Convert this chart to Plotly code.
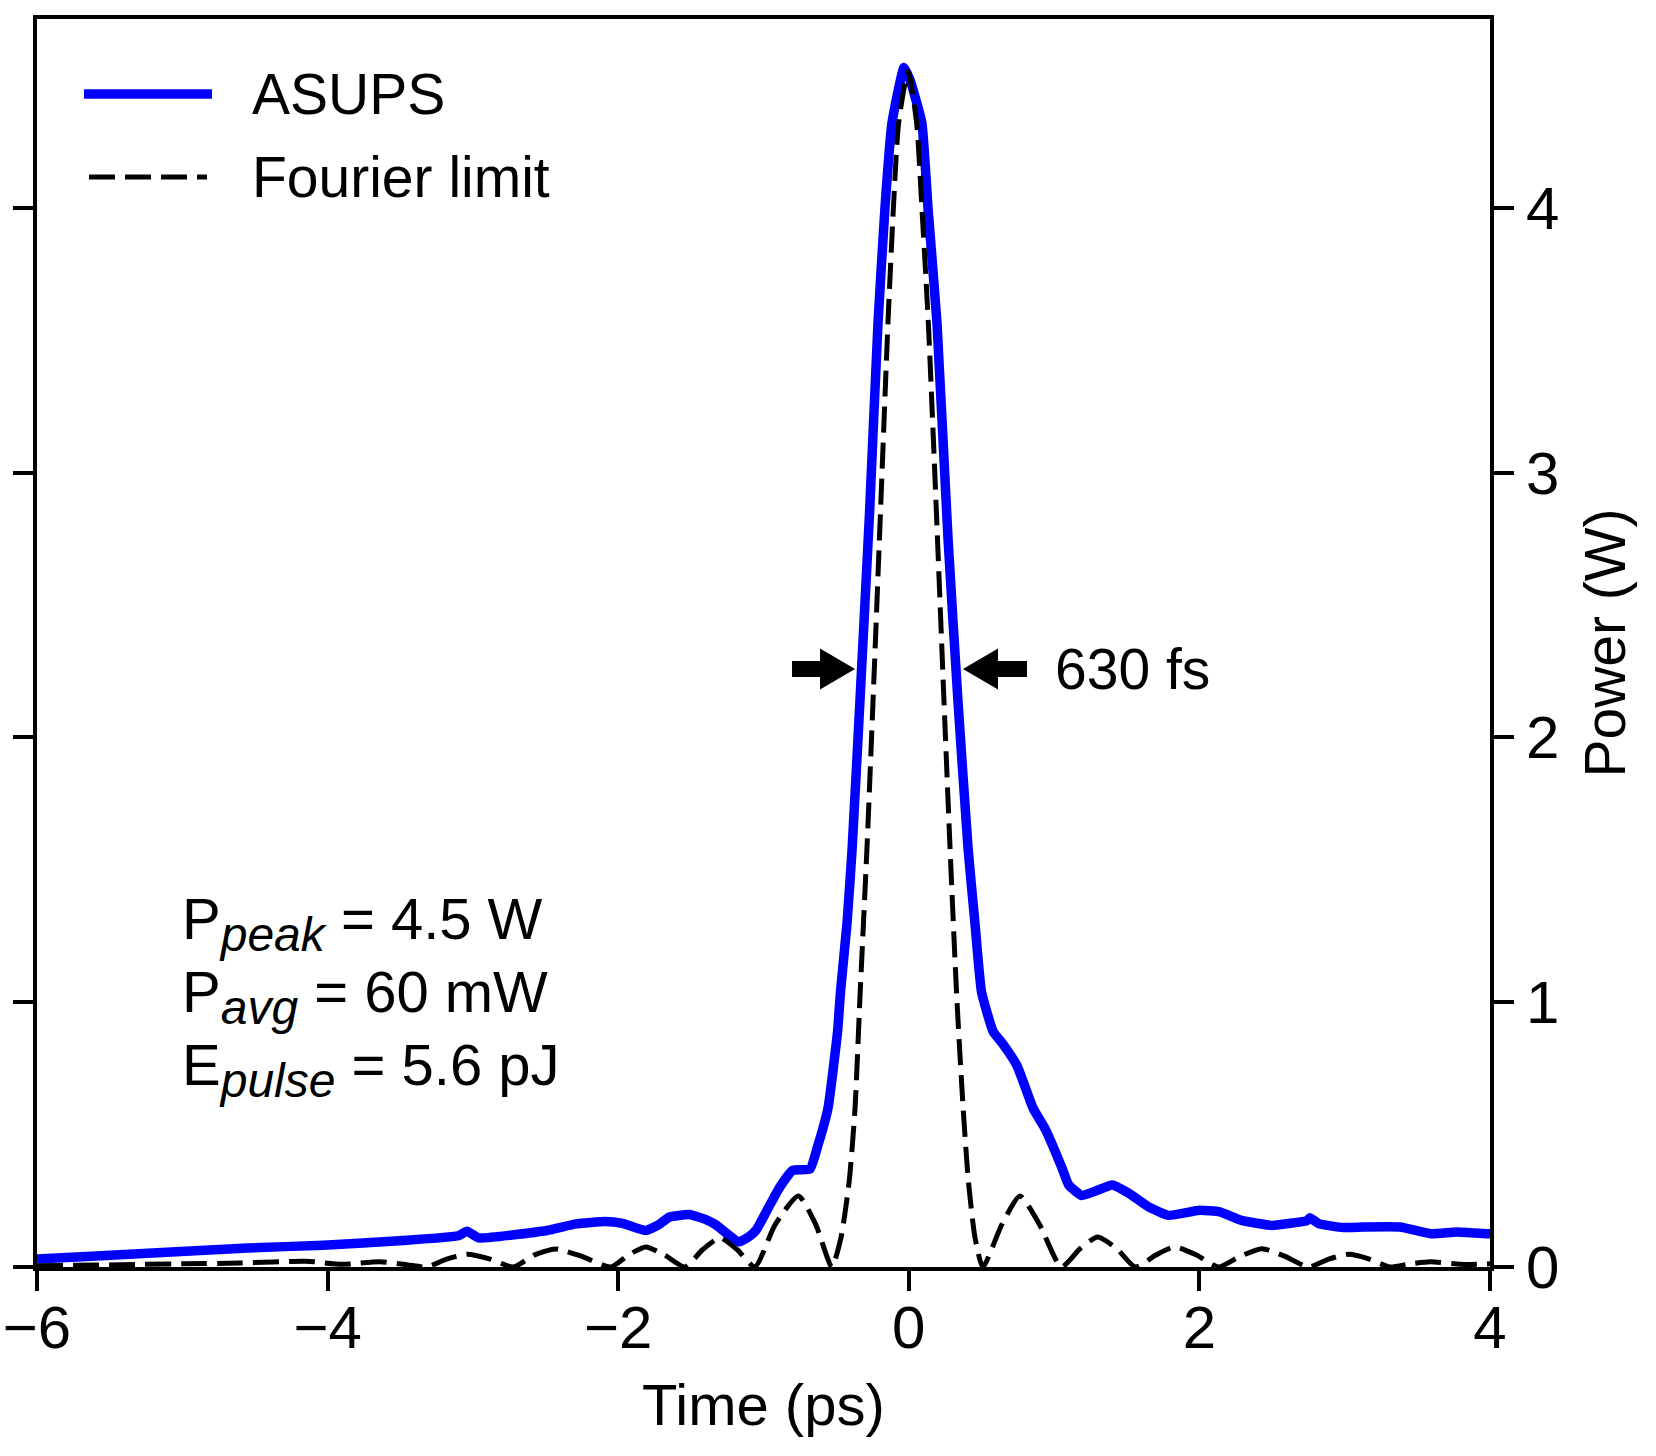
import plotly.graph_objects as go

# ---------------- data ----------------
t_asups = [-6.00, -5.66, -5.14, -4.55, -4.03, -3.48, -3.10, -3.04, -2.96, -2.49,
           -2.29, -2.09, -1.97, -1.81, -1.72, -1.65, -1.51, -1.40, -1.33, -1.17,
           -1.10, -1.05, -0.97, -0.89, -0.80, -0.68, -0.625, -0.556, -0.49, -0.47,
           -0.425, -0.39, -0.336, -0.27, -0.212, -0.164, -0.116, -0.033, 0.01, 0.09,
           0.132, 0.194, 0.27, 0.338, 0.408, 0.455, 0.50, 0.58, 0.65, 0.745,
           0.855, 0.94, 1.05, 1.10, 1.19, 1.30, 1.40, 1.51, 1.65, 1.79,
           2.00, 2.14, 2.29, 2.50, 2.64, 2.74, 2.76, 2.82, 2.99, 3.13,
           3.38, 3.59, 3.77, 3.98, 4.00]
p_asups = [0.030, 0.040, 0.055, 0.072, 0.082, 0.100, 0.118, 0.135, 0.110, 0.138,
           0.163, 0.172, 0.165, 0.138, 0.160, 0.188, 0.198, 0.180, 0.160, 0.095,
           0.115, 0.140, 0.220, 0.300, 0.365, 0.370, 0.460, 0.600, 0.890, 1.040,
           1.300, 1.580, 2.140, 2.850, 3.565, 4.000, 4.320, 4.530, 4.480, 4.320,
           4.000, 3.565, 2.750, 2.140, 1.580, 1.300, 1.040, 0.890, 0.840, 0.760,
           0.600, 0.520, 0.380, 0.310, 0.270, 0.290, 0.310, 0.280, 0.227, 0.195,
           0.214, 0.208, 0.176, 0.157, 0.166, 0.175, 0.186, 0.164, 0.149, 0.151,
           0.151, 0.126, 0.132, 0.126, 0.126]

t_fourier = [-6.00, -5.50, -5.00, -4.60, -4.15, -3.90, -3.64, -3.45, -3.32, -3.18,
             -3.04, -2.88, -2.72, -2.58, -2.43, -2.25, -2.05, -1.93, -1.81, -1.68,
             -1.54, -1.42, -1.30, -1.18, -1.06, -0.92, -0.76, -0.64, -0.53, -0.467,
             -0.41, -0.37, -0.336, -0.288, -0.246, -0.195, -0.143, -0.106, -0.07, -0.005,
             0.054, 0.09, 0.134, 0.19, 0.242, 0.284, 0.33, 0.374, 0.41, 0.456,
             0.51, 0.64, 0.765, 0.90, 1.05, 1.18, 1.30, 1.43, 1.56, 1.70,
             1.83, 1.98, 2.13, 2.28, 2.43, 2.59, 2.75, 2.89, 3.03, 3.17,
             3.31, 3.45, 3.59, 3.80, 4.00]
p_fourier = [0.005, 0.008, 0.012, 0.015, 0.022, 0.010, 0.020, 0.008, 0.000, 0.030,
             0.048, 0.030, 0.000, 0.045, 0.068, 0.040, 0.000, 0.045, 0.076, 0.045,
             0.000, 0.065, 0.110, 0.065, 0.000, 0.160, 0.268, 0.160, 0.000, 0.110,
             0.325, 0.600, 1.020, 1.580, 2.140, 2.850, 3.570, 4.000, 4.320, 4.515,
             4.320, 4.000, 3.570, 2.850, 2.140, 1.580, 1.020, 0.600, 0.325, 0.110,
             0.000, 0.160, 0.268, 0.160, 0.000, 0.070, 0.113, 0.070, 0.000, 0.045,
             0.076, 0.045, 0.000, 0.040, 0.069, 0.040, 0.000, 0.030, 0.048, 0.030,
             0.000, 0.012, 0.020, 0.010, 0.012]

x_ticks = [-6, -4, -2, 0, 2, 4]
y_ticks = [0, 1, 2, 3, 4]
x_range = [-6, 4]
y_range = [0, 4.713]

x_title = "Time (ps)"
y_title = "Power (W)"
series_names = ["ASUPS", "Fourier limit"]
fwhm_label = "630 fs"
fwhm_y = 2.258
fwhm_left_t = -0.370
fwhm_right_t = 0.373
SUB = '<sub><span style="font-size:48px"><i>{}</i></span></sub>'
info_lines = ["P" + SUB.format("peak") + " = 4.5 W",
              "P" + SUB.format("avg") + " = 60 mW",
              "E" + SUB.format("pulse") + " = 5.6 pJ"]

FONT = "Liberation Sans, Arial, Helvetica, sans-serif"
BLUE = "#0000FF"
DASH = "26px,10px"

fig = go.Figure()
fig.add_trace(go.Scatter(x=t_asups, y=p_asups, mode="lines", name=series_names[0],
                         line=dict(color=BLUE, width=9.5, shape="spline", smoothing=0.4),
                         showlegend=False))
fig.add_trace(go.Scatter(x=t_fourier, y=p_fourier, mode="lines", name=series_names[1],
                         line=dict(color="black", width=5, dash=DASH,
                                   shape="spline", smoothing=0.6),
                         showlegend=False))

# plot area in page pixels (page body margin is removed below)
W, H = 1656, 1456
PL, PR, PT, PB = 37, 1490, 19, 1267
L, R, T, B = PL, W - PR, PT, H - PB
pw, ph = PR - PL, PB - PT


def px(xp):
    return (xp - PL) / pw


def py(yp):
    return (PB - yp) / ph


shapes = [
    dict(type="line", xref="paper", yref="paper", x0=px(84), x1=px(212), y0=py(94), y1=py(94),
         line=dict(color=BLUE, width=9.5)),
    dict(type="line", xref="paper", yref="paper", x0=px(89), x1=px(207), y0=py(177), y1=py(177),
         line=dict(color="black", width=5, dash=DASH)),
]

# ---- FWHM arrows (pixel-sized, anchored at data positions) ----
shapes.append(dict(type="path", xref="x", yref="y", xsizemode="pixel", ysizemode="pixel",
                   xanchor=fwhm_left_t, yanchor=fwhm_y,
                   path="M0,0 L-35,20.5 L-35,8 L-63,8 L-63,-8 L-35,-8 L-35,-20.5 Z",
                   fillcolor="black", line=dict(width=0)))
shapes.append(dict(type="path", xref="x", yref="y", xsizemode="pixel", ysizemode="pixel",
                   xanchor=fwhm_right_t, yanchor=fwhm_y,
                   path="M0,0 L35,20.5 L35,8 L64,8 L64,-8 L35,-8 L35,-20.5 Z",
                   fillcolor="black", line=dict(width=0)))

annotations = [
    dict(xref="paper", yref="paper", x=px(250), y=py(94), xanchor="left", yanchor="middle",
         text=series_names[0], showarrow=False, font=dict(family=FONT, size=57, color="black")),
    dict(xref="paper", yref="paper", x=px(250), y=py(177), xanchor="left", yanchor="middle",
         text=series_names[1], showarrow=False, font=dict(family=FONT, size=57, color="black")),
    dict(xref="x", yref="y", x=0.99, y=fwhm_y, xanchor="left", yanchor="middle",
         text=fwhm_label, showarrow=False, font=dict(family=FONT, size=57, color="black")),
    dict(xref="paper", yref="paper", x=0.5, y=py(1404), xanchor="center", yanchor="middle",
         text=x_title, showarrow=False, font=dict(family=FONT, size=58, color="black")),
]
for txt, yc in zip(info_lines, [923, 996, 1069]):
    annotations.append(dict(xref="paper", yref="paper", x=px(180), y=py(yc), xanchor="left",
                            yanchor="middle", text=txt, showarrow=False,
                            font=dict(family=FONT, size=58, color="black")))

fig.update_layout(
    width=W, height=H,
    margin=dict(l=L, r=R, t=T, b=B, autoexpand=False),
    paper_bgcolor="white", plot_bgcolor="white",
    font=dict(family=FONT, color="black"),
    showlegend=False,
    shapes=shapes,
    annotations=annotations,
)
fig.update_xaxes(range=x_range, tickvals=x_ticks, ticks="outside", ticklen=20, tickwidth=4,
                 tickcolor="black", showline=True, linewidth=4, linecolor="black", mirror=True,
                 showgrid=False, zeroline=False, automargin=False, ticklabelstandoff=-15,
                 tickfont=dict(family=FONT, size=60))
fig.update_yaxes(range=y_range, tickvals=y_ticks, side="right", ticks="outside", ticklen=20,
                 tickwidth=4, tickcolor="black", showline=True, linewidth=4, linecolor="black",
                 mirror="ticks", showgrid=False, zeroline=False, automargin=False,
                 tickfont=dict(family=FONT, size=60),
                 title=dict(text=y_title, font=dict(family=FONT, size=57), standoff=28))

fig.write_html("out.html", config={"displayModeBar": False},
               post_script="document.body.style.margin='0';document.body.style.overflow='hidden';")
